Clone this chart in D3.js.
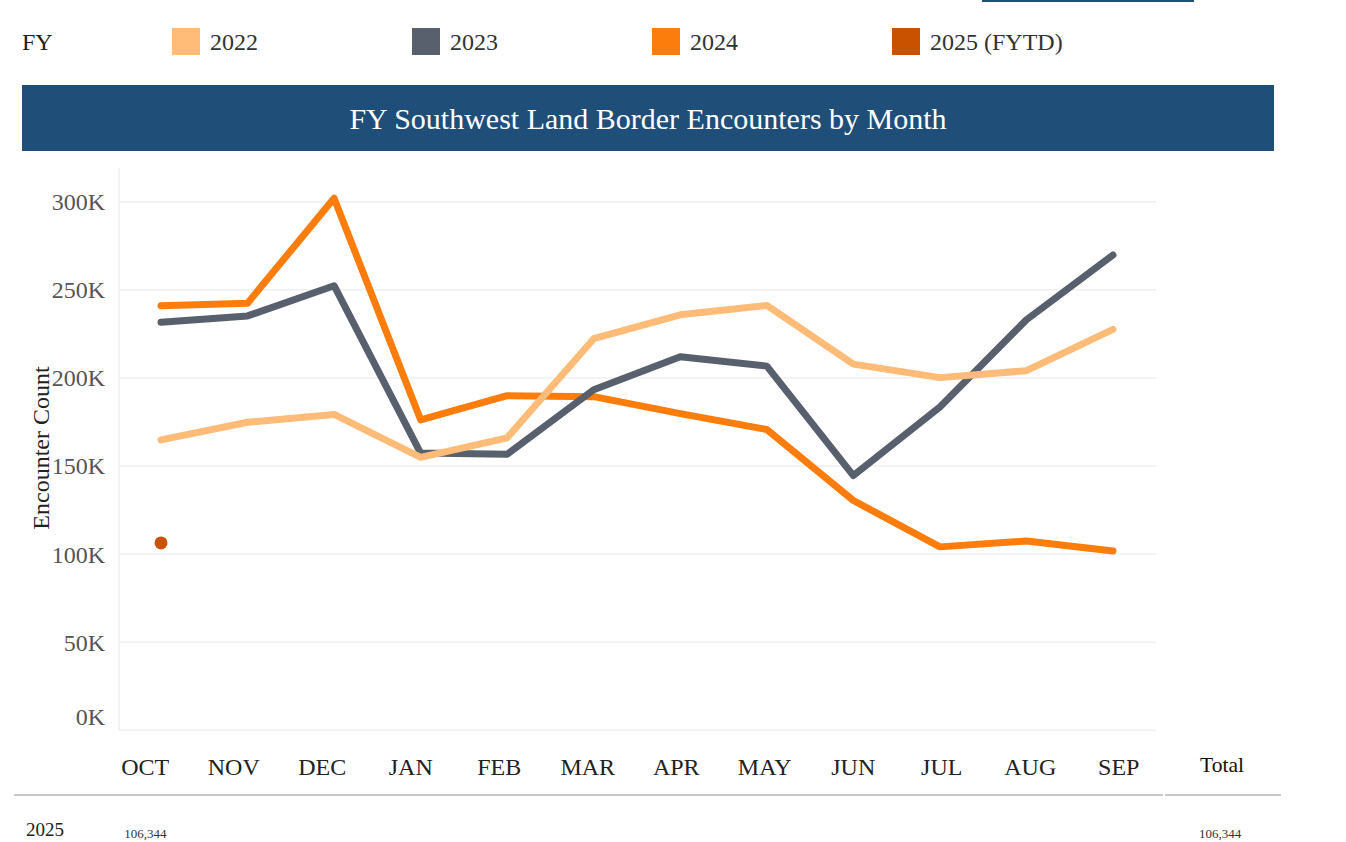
<!DOCTYPE html>
<html>
<head>
<meta charset="utf-8">
<script src="https://cdn.jsdelivr.net/npm/d3@7"></script>
<style>
    body { margin: 0; background: #fff; }
    text { font-family: "Liberation Serif", "Times New Roman", serif; }
</style>
</head>
<body>
<svg id="chart" width="1346" height="842"></svg>
<script>
// monthly Southwest land border encounters, fiscal year order
const months = ['OCT', 'NOV', 'DEC', 'JAN', 'FEB', 'MAR', 'APR', 'MAY', 'JUN', 'JUL', 'AUG', 'SEP']
const fy2022 = [164837, 174845, 179253, 154874, 166010, 222239, 235785, 241136, 207834, 200162, 204087, 227547]
const fy2023 = [231529, 235173, 252315, 157358, 156630, 193249, 211992, 206690, 144556, 183503, 232972, 269735]
const fy2024 = [240988, 242418, 301981, 176205, 189913, 189359, 179737, 170716, 130415, 104101, 107473, 101790]
const fy2025 = [106344]
const yTicks = [0, 50000, 100000, 150000, 200000, 250000, 300000]
const legendLabels = ['2022', '2023', '2024', '2025 (FYTD)']
const colors = ['#ffbc79', '#57606c', '#fc7d0b', '#c85200']

const svg = d3.select('#chart')

const x = d3.scalePoint().domain(months).range([161, 1113])
const y = d3.scaleLinear().domain([0, 300000]).range([730.3, 201.7])
const colBand = d3.scaleBand().domain(months).range([101, 1163])

// top-right fragment of a tab underline
svg.append('line')
    .attr('x1', 982).attr('x2', 1194).attr('y1', 1).attr('y2', 1)
    .attr('stroke', '#1f4e79').attr('stroke-width', 2)

// legend
svg.append('text')
    .attr('x', 22).attr('y', 50)
    .attr('font-size', 24).attr('fill', '#222')
    .text('FY')

const legend = svg.selectAll('.legend-item')
    .data(legendLabels)
    .join('g')
    .attr('class', 'legend-item')
    .attr('transform', (d, i) => `translate(${172 + i * 240}, 0)`)

legend.append('rect')
    .attr('x', 0).attr('y', 28)
    .attr('width', 28).attr('height', 27)
    .attr('fill', (d, i) => colors[i])

legend.append('text')
    .attr('x', 38).attr('y', 50)
    .attr('font-size', 24).attr('fill', '#333')
    .text(d => d)

// title banner
svg.append('rect')
    .attr('x', 22).attr('y', 85)
    .attr('width', 1252).attr('height', 66)
    .attr('fill', '#1f4e79')

svg.append('text')
    .attr('x', 648).attr('y', 129)
    .attr('text-anchor', 'middle')
    .attr('font-size', 30).attr('fill', '#fff')
    .text('FY Southwest Land Border Encounters by Month')

// gridlines + axis line
svg.append('g')
    .selectAll('line')
    .data(yTicks)
    .join('line')
    .attr('x1', 119).attr('x2', 1156)
    .attr('y1', d => y(d)).attr('y2', d => y(d))
    .attr('stroke', '#efefef').attr('stroke-width', 1.5)

svg.append('line')
    .attr('x1', 119).attr('x2', 119).attr('y1', 168).attr('y2', 730)
    .attr('stroke', '#efefef').attr('stroke-width', 1.5)

// y axis labels
svg.append('g')
    .selectAll('text')
    .data(yTicks)
    .join('text')
    .attr('x', 105)
    .attr('y', d => d === 0 ? y(d) - 14 : y(d))
    .attr('dy', '0.35em')
    .attr('text-anchor', 'end')
    .attr('font-size', 24).attr('fill', '#555')
    .text(d => `${d / 1000}K`)

svg.append('text')
    .attr('transform', 'translate(49, 448) rotate(-90)')
    .attr('text-anchor', 'middle')
    .attr('font-size', 24).attr('fill', '#222')
    .text('Encounter Count')

// lines, 2024 at the bottom, 2022 on top
const line = d3.line()
    .x((d, i) => x(months[i]))
    .y(d => y(d))

const series = [
    { values: fy2024, color: colors[2] },
    { values: fy2023, color: colors[1] },
    { values: fy2022, color: colors[0] }
]

svg.append('g')
    .selectAll('path')
    .data(series)
    .join('path')
    .attr('d', d => line(d.values))
    .attr('fill', 'none')
    .attr('stroke', d => d.color)
    .attr('stroke-width', 7)
    .attr('stroke-linejoin', 'round')
    .attr('stroke-linecap', 'round')

svg.append('g')
    .selectAll('circle')
    .data(fy2025)
    .join('circle')
    .attr('cx', (d, i) => x(months[i]))
    .attr('cy', d => y(d))
    .attr('r', 6.5)
    .attr('fill', colors[3])

// month header of the table below
svg.append('g')
    .selectAll('text')
    .data(months)
    .join('text')
    .attr('x', d => colBand(d) + colBand.bandwidth() / 2)
    .attr('y', 775)
    .attr('text-anchor', 'middle')
    .attr('font-size', 24).attr('fill', '#222')
    .text(d => d)

svg.append('text')
    .attr('x', 1222).attr('y', 772)
    .attr('text-anchor', 'middle')
    .attr('font-size', 21.5).attr('fill', '#111')
    .text('Total')

svg.append('line')
    .attr('x1', 14).attr('x2', 1163).attr('y1', 795).attr('y2', 795)
    .attr('stroke', '#c8c8c8').attr('stroke-width', 2)
svg.append('line')
    .attr('x1', 1165).attr('x2', 1281).attr('y1', 795).attr('y2', 795)
    .attr('stroke', '#c8c8c8').attr('stroke-width', 2)

// table row at the bottom edge
svg.append('text')
    .attr('x', 26).attr('y', 836)
    .attr('font-size', 19).attr('fill', '#222')
    .text('2025')

const fmt = d3.format(',')
svg.append('g')
    .selectAll('text')
    .data(fy2025)
    .join('text')
    .attr('x', (d, i) => colBand(months[i]) + colBand.bandwidth() / 2)
    .attr('y', 838)
    .attr('text-anchor', 'middle')
    .attr('font-size', 13).attr('fill', '#333')
    .text(d => fmt(d))

svg.append('text')
    .attr('x', 1220).attr('y', 838)
    .attr('text-anchor', 'middle')
    .attr('font-size', 13).attr('fill', '#333')
    .text(fmt(d3.sum(fy2025)))
</script>
</body>
</html>
